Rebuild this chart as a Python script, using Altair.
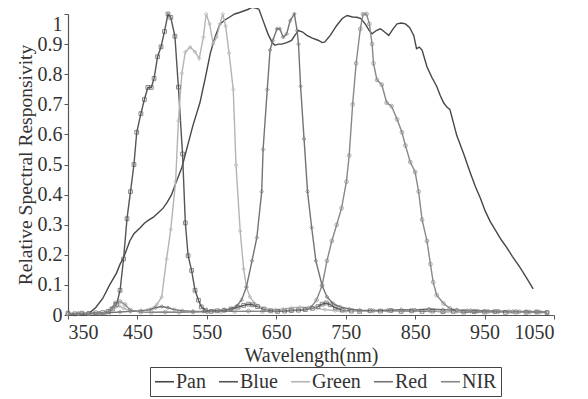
import altair as alt
import pandas as pd

series_names = ["Pan", "Blue", "Green", "Red", "NIR"]
line_colors = ["#474747", "#555555", "#b4b4b4", "#747474", "#888888"]
marker_shapes = ["square", "diamond", "diamond", "circle"]
x_ticks = [350, 450, 550, 650, 750, 850, 950, 1050]
y_ticks = [0, 0.1, 0.2, 0.3, 0.4, 0.5, 0.6, 0.7, 0.8, 0.9, 1.0]

pan_wl = [350, 360, 370, 380, 390, 400, 410, 420, 425, 430, 439, 445, 454, 460, 466, 473, 480, 487, 493, 499,
          506, 514, 522, 530, 540, 548, 555, 562, 569, 576, 583, 590, 597, 603, 609, 615, 620, 625, 631, 638,
          644, 648, 653, 658, 665, 672, 677, 682, 688, 694, 702, 711, 716, 720, 728, 737, 745, 752, 760, 766,
          772, 778, 784, 788, 794, 800, 806, 812, 818, 824, 830, 836, 842, 848, 852, 856, 860, 867, 874, 881,
          886, 891, 896, 900, 905, 910, 920, 929, 937, 944, 951, 958, 966, 974, 982, 990, 1001, 1010, 1020]
pan_val = [0.0, 0.0, 0.001, 0.005, 0.025, 0.055, 0.1, 0.14, 0.169, 0.19, 0.246, 0.27, 0.29, 0.305, 0.315, 0.325, 0.34, 0.355, 0.375, 0.399,
           0.443, 0.49, 0.56, 0.63, 0.705, 0.79, 0.87, 0.925, 0.967, 0.98, 0.99, 1.0, 1.005, 1.01, 1.015, 1.022, 1.02, 1.016, 0.978, 0.934,
           0.905, 0.896, 0.9, 0.9, 0.905, 0.912, 0.93, 0.945, 0.94, 0.929, 0.92, 0.912, 0.905, 0.907, 0.93, 0.962, 0.985, 0.995, 0.99, 0.989,
           0.985, 0.967, 0.945, 0.934, 0.945, 0.951, 0.94, 0.929, 0.95, 0.967, 0.97, 0.967, 0.955, 0.929, 0.885, 0.89, 0.88, 0.825, 0.79, 0.76,
           0.73, 0.705, 0.69, 0.683, 0.64, 0.596, 0.535, 0.475, 0.425, 0.388, 0.345, 0.311, 0.28, 0.25, 0.224, 0.195, 0.158, 0.125, 0.087]

blue_wl = [350, 360, 370, 380, 390, 400, 408, 414, 420, 425, 430, 435, 440, 445, 449, 455, 460, 465, 470, 474,
           479, 484, 489, 494, 498, 504, 509, 515, 519, 523, 528, 533, 538, 542, 548, 556, 565, 575, 585, 595,
           603, 610, 616, 623, 632, 642, 652, 662, 672, 682, 692, 702, 710, 716, 722, 728, 735, 745, 758, 770,
           785, 800, 815, 830, 845, 860, 875, 890, 905, 920, 935, 950, 965, 980, 995, 1010, 1025, 1040]
blue_val = [0.006, 0.004, 0.006, 0.005, 0.007, 0.008, 0.012, 0.02, 0.035, 0.082, 0.186, 0.32, 0.41, 0.5, 0.607, 0.669, 0.716, 0.756, 0.756, 0.786,
            0.858, 0.891, 0.942, 1.0, 0.989, 0.926, 0.757, 0.535, 0.306, 0.197, 0.148, 0.082, 0.049, 0.027, 0.016, 0.012, 0.014, 0.016, 0.02, 0.026,
            0.032, 0.036, 0.034, 0.028, 0.02, 0.014, 0.012, 0.013, 0.015, 0.016, 0.018, 0.022, 0.028, 0.036, 0.04, 0.034, 0.024, 0.016, 0.013, 0.012,
            0.014, 0.013, 0.015, 0.012, 0.014, 0.012, 0.013, 0.011, 0.012, 0.01, 0.011, 0.01, 0.011, 0.009, 0.01, 0.009, 0.01, 0.008]

green_wl = [350, 365, 380, 395, 405, 412, 418, 424, 430, 440, 452, 464, 472, 478, 485, 492, 498, 505, 509, 514,
            519, 526, 533, 539, 545, 549, 554, 559, 564, 569, 573, 577, 582, 588, 592, 598, 603, 607, 612, 619,
            626, 636, 648, 660, 672, 684, 696, 708, 720, 735, 750, 770, 790, 810, 830, 850, 870, 890, 910, 930,
            950, 970, 990, 1010, 1025, 1040]
green_val = [0.004, 0.005, 0.004, 0.006, 0.008, 0.015, 0.025, 0.03, 0.022, 0.014, 0.012, 0.016, 0.022, 0.035, 0.06, 0.186, 0.284, 0.443, 0.645, 0.803,
             0.874, 0.89, 0.874, 0.852, 0.923, 1.0, 0.967, 0.9, 0.923, 0.967, 1.0, 0.96, 0.87, 0.749, 0.498, 0.279, 0.153, 0.093, 0.06, 0.038,
             0.027, 0.02, 0.018, 0.02, 0.024, 0.026, 0.025, 0.022, 0.018, 0.014, 0.012, 0.013, 0.012, 0.014, 0.013, 0.015, 0.014, 0.012, 0.011, 0.012,
             0.01, 0.011, 0.009, 0.01, 0.009, 0.008]

red_wl = [350, 365, 380, 395, 410, 425, 440, 455, 468, 476, 485, 494, 503, 515, 530, 545, 560, 575, 585, 593,
          600, 607, 615, 622, 629, 631, 637, 641, 645, 651, 655, 660, 665, 670, 676, 680, 682, 685, 690, 695,
          701, 707, 716, 723, 732, 742, 755, 770, 790, 810, 830, 850, 870, 890, 910, 930, 950, 970, 990, 1010,
          1025, 1040]
red_val = [0.003, 0.004, 0.005, 0.006, 0.008, 0.01, 0.012, 0.014, 0.018, 0.024, 0.028, 0.024, 0.018, 0.014, 0.012, 0.012, 0.014, 0.016, 0.02, 0.03,
           0.05, 0.093, 0.18, 0.257, 0.41, 0.55, 0.749, 0.88, 0.912, 0.951, 0.951, 0.923, 0.934, 0.978, 1.0, 0.945, 0.9, 0.76, 0.585, 0.41,
           0.29, 0.18, 0.098, 0.06, 0.038, 0.027, 0.02, 0.016, 0.015, 0.016, 0.018, 0.017, 0.02, 0.018, 0.016, 0.015, 0.014, 0.013, 0.012, 0.012,
           0.011, 0.01]

nir_wl = [350, 365, 380, 395, 405, 412, 418, 425, 432, 440, 455, 470, 490, 510, 530, 550, 570, 590, 610, 630,
          650, 670, 690, 700, 708, 716, 723, 730, 737, 744, 751, 755, 760, 765, 771, 775, 780, 784, 788, 790,
          795, 802, 809, 816, 824, 831, 836, 843, 850, 855, 860, 867, 872, 876, 881, 891, 900, 910, 925, 940,
          955, 970, 985, 1000, 1015, 1030, 1040]
nir_val = [0.003, 0.004, 0.004, 0.005, 0.008, 0.02, 0.04, 0.045, 0.035, 0.016, 0.01, 0.009, 0.01, 0.009, 0.01, 0.011, 0.012, 0.012, 0.013, 0.012,
           0.013, 0.015, 0.018, 0.025, 0.05, 0.098, 0.18, 0.246, 0.3, 0.355, 0.443, 0.53, 0.7, 0.836, 0.95, 1.0, 1.0, 0.967, 0.9, 0.836,
           0.781, 0.765, 0.705, 0.694, 0.65, 0.607, 0.563, 0.508, 0.475, 0.41, 0.317, 0.246, 0.169, 0.109, 0.066, 0.038, 0.022, 0.016, 0.014, 0.013,
           0.012, 0.012, 0.011, 0.011, 0.01, 0.01, 0.009]

rows = []
for name, wls, vals in [("Pan", pan_wl, pan_val), ("Blue", blue_wl, blue_val), ("Green", green_wl, green_val),
                        ("Red", red_wl, red_val), ("NIR", nir_wl, nir_val)]:
    assert len(wls) == len(vals), name
    for w, v in zip(wls, vals):
        rows.append({"series": name, "wavelength": w, "value": v})
df = pd.DataFrame(rows)

SERIF = "Liberation Serif"

x_enc = alt.X("wavelength:Q",
              scale=alt.Scale(domain=[350, 1050], nice=False, zero=False),
              axis=alt.Axis(values=x_ticks, title="Wavelength(nm)", format="d", grid=False,
                            tickSize=4, labelPadding=3, titlePadding=3, titleFontSize=20,
                            labelFontSize=20))
y_enc = alt.Y("value:Q",
              scale=alt.Scale(domain=[0, 1], nice=False),
              axis=alt.Axis(values=y_ticks, format=".1~f", title="Relative Spectral Responsivity", grid=False,
                            tickSize=4, labelPadding=2, titlePadding=2, titleFontSize=19.5,
                            labelFontSize=20,
                            labelBaseline={"condition": {"test": "datum.value >= 1", "value": "top"},
                                           "value": "middle"}))

lines = alt.Chart(df).mark_line(strokeWidth=1.4, clip=False).encode(
    x=x_enc, y=y_enc,
    color=alt.Color("series:N", sort=series_names,
                    scale=alt.Scale(domain=series_names, range=line_colors),
                    legend=alt.Legend(title=None, orient="none", legendX=82, legendY=353,
                                      direction="horizontal", symbolType="stroke",
                                      symbolSize=360, symbolStrokeWidth=1.6,
                                      labelFont=SERIF, labelFontSize=20, labelColor="#333333",
                                      strokeColor="#444444", padding=4, columnPadding=9,
                                      labelOffset=1)),
)

points = alt.Chart(df).transform_filter("datum.series != 'Pan'").mark_point(
    filled=False, size=14, strokeWidth=1, clip=False
).encode(
    x=x_enc, y=y_enc,
    stroke=alt.Stroke("series:N", scale=alt.Scale(domain=series_names, range=line_colors), legend=None),
    shape=alt.Shape("series:N", scale=alt.Scale(domain=["Blue", "Green", "Red", "NIR"], range=marker_shapes),
                    legend=None),
)

chart = alt.layer(lines, points).properties(
    width=486, height=301,
    autosize=alt.AutoSizeParams(type="none"),
    padding={"left": 60, "top": 6, "right": 26, "bottom": 84},
).configure_view(stroke=None).configure_axis(
    labelFont=SERIF, titleFont=SERIF, labelColor="#333333", titleColor="#333333",
    titleFontWeight="normal", domainColor="#555555", tickColor="#555555", domainWidth=1.2,
)

chart.save("out.html", embed_options={"renderer": "svg", "actions": False})
